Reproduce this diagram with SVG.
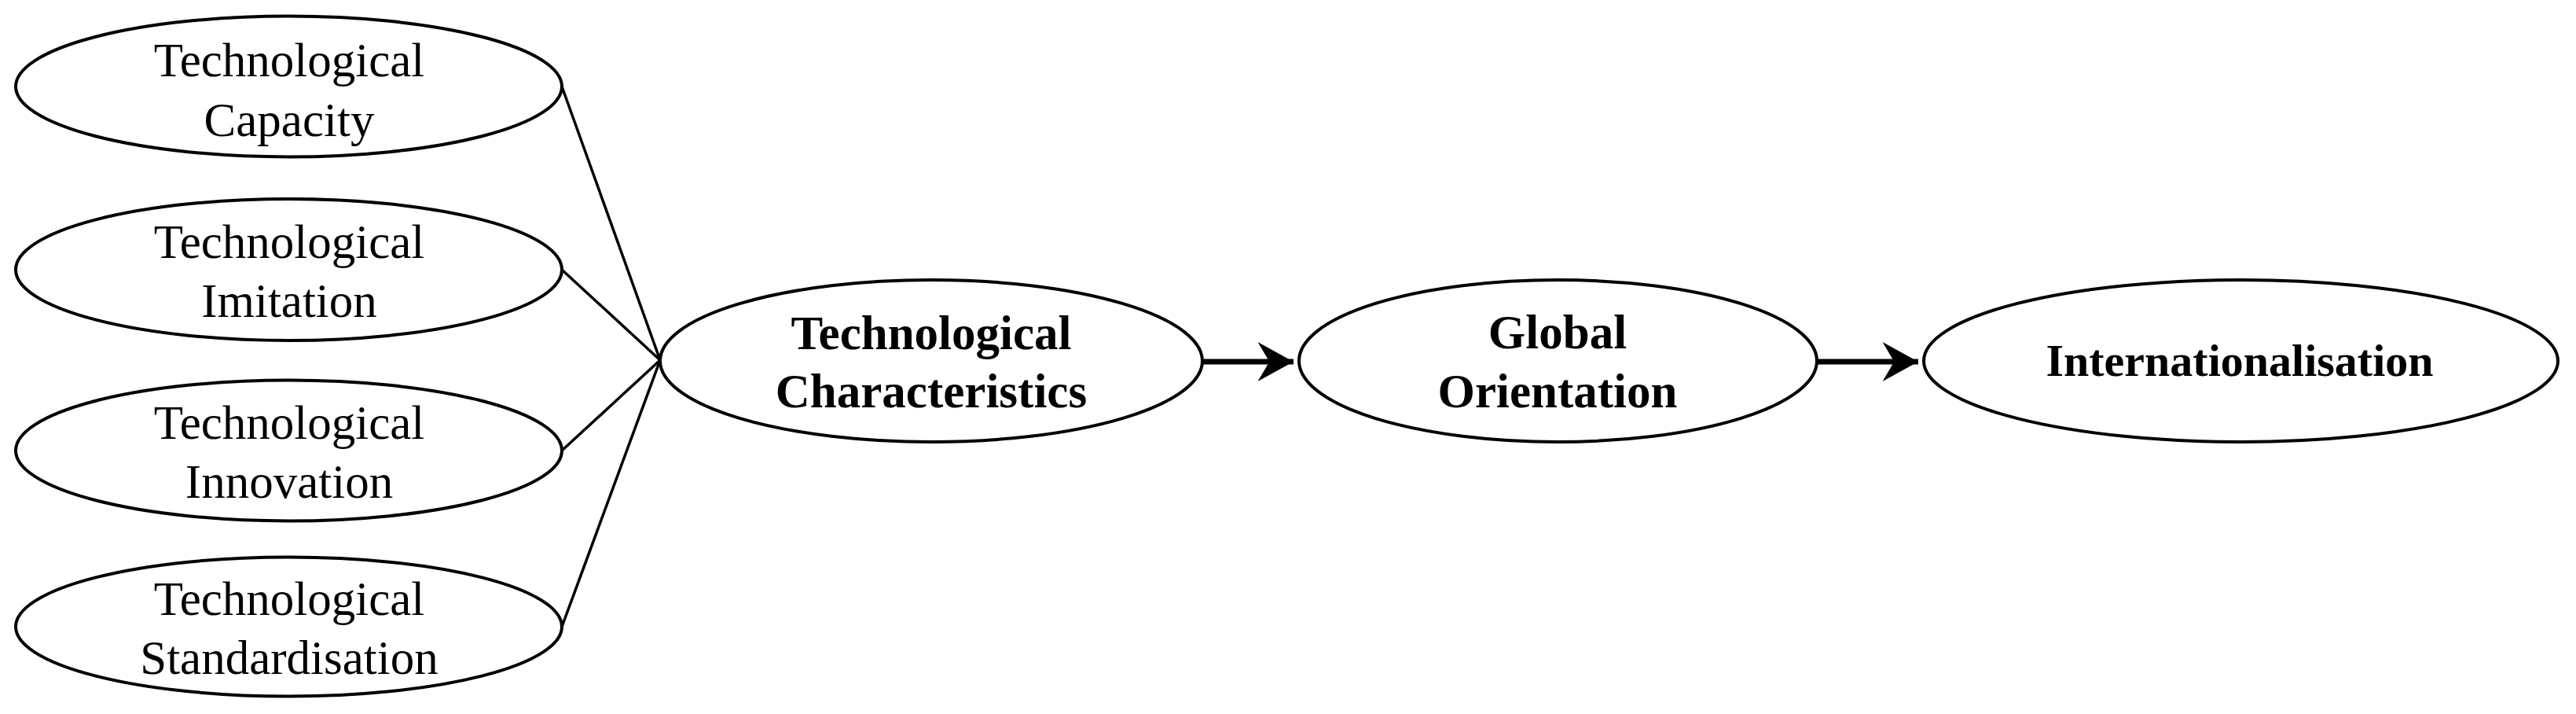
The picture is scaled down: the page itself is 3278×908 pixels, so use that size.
<svg xmlns="http://www.w3.org/2000/svg" width="3278" height="908" viewBox="0 0 3278 908">
<style>
.node ellipse{fill:#fff;stroke:#000;stroke-width:4}
.t{font-family:"Liberation Serif","Times New Roman",serif;font-size:61px;fill:#000;text-anchor:middle}
.b{font-weight:bold}
.edge{stroke:#000;stroke-width:3.5;fill:none}
.arrow{stroke:#000;stroke-width:7;fill:none}
</style>
<defs>
<marker id="ah" markerUnits="userSpaceOnUse" markerWidth="50" markerHeight="50" viewBox="0 0 40 44" refX="40" refY="22" orient="auto">
<path d="M40,22 L0,0 L13,22 L0,44 Z" fill="#000"/>
</marker>
</defs>
<rect width="3278" height="908" fill="#fff"/>
<g id="connectors">
<line class="edge" x1="715" y1="110" x2="840" y2="458"/>
<line class="edge" x1="715" y1="343" x2="840" y2="458"/>
<line class="edge" x1="715" y1="573" x2="840" y2="458"/>
<line class="edge" x1="715" y1="797" x2="840" y2="458"/>
<line class="arrow" x1="1530" y1="460" x2="1646" y2="460" marker-end="url(#ah)"/>
<line class="arrow" x1="2312" y1="460" x2="2441" y2="460" marker-end="url(#ah)"/>
</g>
<g id="n-capacity" class="node">
<ellipse cx="367.5" cy="110" rx="347.5" ry="89.5"/>
<text class="t" x="368" y="97">Technological</text>
<text class="t" x="368" y="173">Capacity</text>
</g>
<g id="n-imitation" class="node">
<ellipse cx="367.5" cy="343" rx="347.5" ry="90"/>
<text class="t" x="368" y="328">Technological</text>
<text class="t" x="368" y="403">Imitation</text>
</g>
<g id="n-innovation" class="node">
<ellipse cx="367.5" cy="573" rx="347.5" ry="89.5"/>
<text class="t" x="368" y="558">Technological</text>
<text class="t" x="368" y="633">Innovation</text>
</g>
<g id="n-standardisation" class="node">
<ellipse cx="367.5" cy="797" rx="347.5" ry="88.5"/>
<text class="t" x="368" y="782">Technological</text>
<text class="t" x="368" y="857">Standardisation</text>
</g>
<g id="n-techchar" class="node">
<ellipse cx="1185" cy="459" rx="345" ry="103"/>
<text class="t b" x="1185" y="444">Technological</text>
<text class="t b" x="1185" y="518">Characteristics</text>
</g>
<g id="n-global" class="node">
<ellipse cx="1982.5" cy="459" rx="329.5" ry="103"/>
<text class="t b" x="1982" y="443">Global</text>
<text class="t b" x="1982" y="518">Orientation</text>
</g>
<g id="n-intl" class="node">
<ellipse cx="2851.5" cy="459" rx="403.5" ry="103"/>
<text class="t b" x="2850" y="478" style="font-size:58px">Internationalisation</text>
</g>
</svg>
